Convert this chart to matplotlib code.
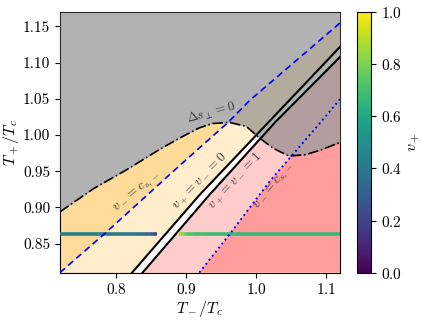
#Plot of the allowed (T-, T+) region with the v+ track along a fixed T+ line.

import numpy as np
import matplotlib.pyplot as plt
from matplotlib.collections import LineCollection
from matplotlib.patches import Polygon
from matplotlib.cm import ScalarMappable
from matplotlib.colors import Normalize

plt.rcParams['font.family'] = 'serif'
plt.rcParams['font.serif'] = ['cmr10', 'DejaVu Serif']
plt.rcParams['mathtext.fontset'] = 'cm'
plt.rcParams['axes.formatter.use_mathtext'] = True

#curve where delta s_perp = 0
ds_tm = [0.72, 0.768, 0.815, 0.862, 0.891, 0.919, 0.938, 0.962, 0.986, 1.005, 1.024, 1.047, 1.071, 1.094, 1.12]
ds_tp = [0.894, 0.926, 0.952, 0.980, 0.996, 1.010, 1.016, 1.0175, 1.012, 0.996, 0.982, 0.971, 0.973, 0.980, 0.990]

#v- = c_s,- (dashed, left branch)
cs1_tm = [0.72, 0.784, 0.891, 0.96, 0.991, 1.12]
cs1_tp = [0.81, 0.864, 0.958, 1.0175, 1.048, 1.155]

#v+ = v- = 0 and v+ = v- = 1
v0_tm = [0.823, 0.919, 1.018, 1.12]
v0_tp = [0.81, 0.917, 1.018, 1.122]
v1_tm = [0.838, 0.933, 1.028, 1.12]
v1_tp = [0.81, 0.917, 1.0185, 1.108]

#v- = c_s,- (dotted, right branch)
cs2_tm = [0.919, 0.963, 1.021, 1.093, 1.12]
cs2_tp = [0.81, 0.864, 0.938, 1.0185, 1.05]

#v+ along T+ = 0.864
track_tp = 0.864
trackA_tm = [0.72, 0.75, 0.78, 0.81, 0.83, 0.84, 0.85, 0.855, 0.8586]
trackA_vp = [0.42, 0.42, 0.41, 0.40, 0.37, 0.34, 0.28, 0.22, 0.15]
trackB_tm = [0.8898, 0.893, 0.897, 0.902, 0.91, 0.93, 0.96, 1.0, 1.05, 1.12]
trackB_vp = [0.88, 0.82, 0.76, 0.72, 0.70, 0.68, 0.67, 0.67, 0.67, 0.67]

xmin, xmax = 0.72, 1.12
ymin, ymax = 0.81, 1.17

fig = plt.figure(figsize=(4.22, 3.2), dpi=100)
ax = fig.add_axes([0.142, 0.148, 0.664, 0.8145])
cax = fig.add_axes([0.847, 0.148, 0.032, 0.8145])

#background regions, layered
ax.fill_between(ds_tm, ymin, ds_tp, color='#ffdb99', lw=0, zorder=1)
ax.fill(cs1_tm + v0_tm[::-1], cs1_tp + v0_tp[::-1], color='#ffedcc', lw=0, zorder=2)
ax.fill(v0_tm + v1_tm[::-1], v0_tp + v1_tp[::-1], color='white', lw=0, zorder=2)
ax.fill(v1_tm + [xmax], v1_tp + [ymin], color='#ffcccc', lw=0, zorder=2)
below = Polygon(list(zip(ds_tm, ds_tp)) + [(xmax, ymin), (xmin, ymin)], transform=ax.transData)
salmon = ax.fill(cs2_tm + [xmax], cs2_tp + [ymin], color='#ff9c9c', lw=0, zorder=3)[0]
salmon.set_clip_path(below)
ax.fill_between(ds_tm, ds_tp, ymax, color='#808080', alpha=0.6, lw=0, zorder=4)

#v+ track, coloured by value
norm = Normalize(0, 1)
for tm, vp in [(trackA_tm, trackA_vp), (trackB_tm, trackB_vp)]:
	pts = np.array([[t, track_tp] for t in tm])
	segs = np.stack([pts[:-1], pts[1:]], axis=1)
	lc = LineCollection(segs, cmap='viridis', norm=norm, lw=2.6, zorder=5, capstyle='butt')
	lc.set_array(np.array(vp[:-1]))
	ax.add_collection(lc)

#boundary lines
ax.plot(cs1_tm, cs1_tp, color='blue', ls=(0, (4, 2.5)), lw=1.2, zorder=6)
ax.plot(cs2_tm, cs2_tp, color='blue', ls=':', lw=1.4, zorder=6)
ax.plot(v0_tm, v0_tp, color='black', lw=1.5, zorder=6)
ax.plot(v1_tm, v1_tp, color='black', lw=1.5, zorder=6)
ax.plot(ds_tm, ds_tp, color='black', ls='-.', lw=1.2, zorder=6)

#labels on the curves
lab = dict(fontsize=9.5, color='0.22', ha='center', va='center', zorder=7)
ax.text(0.936, 1.030, r'$\Delta s_\perp = 0$', rotation=15, **lab)
ax.text(0.8305, 0.9206, r'$v_- = c_{s,-}$', rotation=40, **lab)
ax.text(0.920, 0.9368, r'$v_+ = v_- = 0$', rotation=46, **lab)
ax.text(0.970, 0.937, r'$v_+ = v_- = 1$', rotation=47, **lab)
ax.text(1.0267, 0.9286, r'$v_- = c_{s,-}$', rotation=51, **lab)

ax.set_xlim(xmin, xmax)
ax.set_ylim(ymin, ymax)
ax.set_xticks([0.8, 0.9, 1.0, 1.1])
ax.set_yticks([0.85, 0.90, 0.95, 1.00, 1.05, 1.10, 1.15])
ax.set_yticklabels(['0.85', '0.90', '0.95', '1.00', '1.05', '1.10', '1.15'])
ax.tick_params(labelsize=11)
ax.set_xlabel(r'$T_-/T_c$', fontsize=11.5, labelpad=1)
ax.set_ylabel(r'$T_+/T_c$', fontsize=11.5, labelpad=1)

cb = fig.colorbar(ScalarMappable(norm=norm, cmap='viridis'), cax=cax)
cb.set_ticks([0.0, 0.2, 0.4, 0.6, 0.8, 1.0])
cb.ax.tick_params(labelsize=11)
cb.set_label(r'$v_+$', fontsize=11.5)

fig.savefig('out.png', dpi=100)
